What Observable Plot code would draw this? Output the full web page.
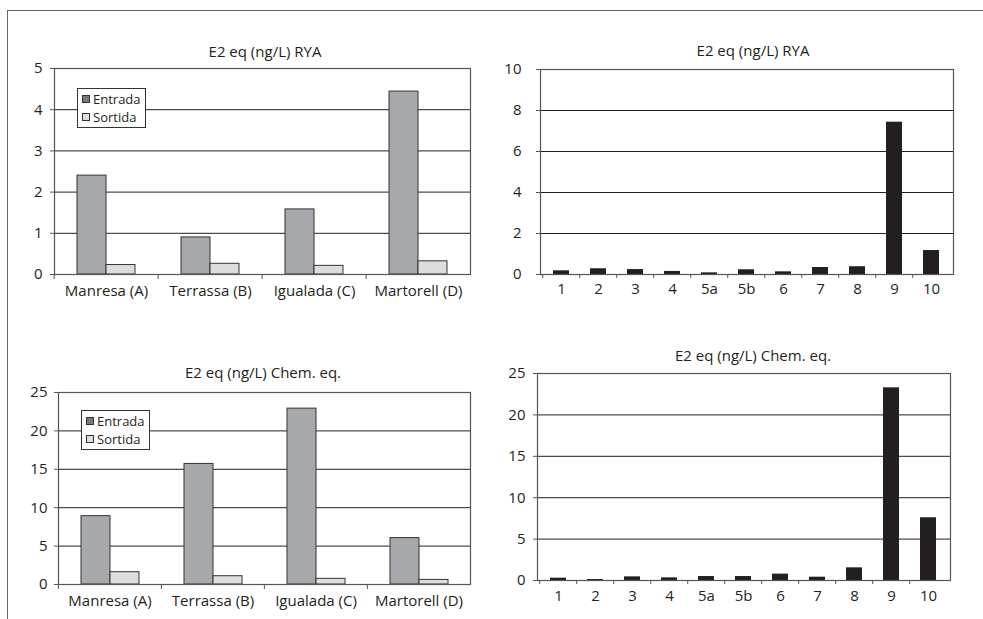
<!DOCTYPE html>
<html>
<head>
<meta charset="utf-8">
<script src="https://cdn.jsdelivr.net/npm/d3@7"></script>
<script src="https://cdn.jsdelivr.net/npm/@observablehq/plot@0.6"></script>
<style>
  html, body { margin: 0; padding: 0; background: #fff; }
  #root { position: relative; width: 983px; height: 619px; overflow: hidden; background: #fff;
          font-family: "Open Sans", sans-serif; color: #231f20; }
  .outer { position: absolute; left: 7px; top: 10px; width: 1000px; height: 700px;
           border-left: 1.5px solid #666; border-top: 1.5px solid #666; }
  .panel { position: absolute; }
  .title { position: absolute; width: 300px; text-align: center; font-size: 15px; line-height: 20px; white-space: nowrap; }
  .legend { position: absolute; border: 1px solid #333; background: #fff; font-size: 13px; line-height: 18px; padding: 1px 4px 1px 4px; }
  .legend .sw { display: inline-block; width: 6px; height: 6px; border: 1px solid #333; margin-right: 3px; vertical-align: 1px; }
</style>
</head>
<body>
<div id="root">
  <div class="outer"></div>
</div>
<script>
// ---- data ----
const sites = ["Manresa (A)", "Terrassa (B)", "Igualada (C)", "Martorell (D)"];
const series = ["Entrada", "Sortida"];
const ryaEntrada = [2.40, 0.90, 1.58, 4.44];
const ryaSortida = [0.23, 0.26, 0.21, 0.32];
const chemEntrada = [8.9, 15.7, 22.9, 6.04];
const chemSortida = [1.6, 1.08, 0.74, 0.6];
const stations = ["1", "2", "3", "4", "5a", "5b", "6", "7", "8", "9", "10"];
const ryaStations = [0.18, 0.28, 0.24, 0.15, 0.08, 0.23, 0.13, 0.34, 0.38, 7.43, 1.17];
const chemStations = [0.28, 0.12, 0.44, 0.32, 0.48, 0.48, 0.77, 0.40, 1.53, 23.27, 7.58];
const ticksRyaSites = [0, 1, 2, 3, 4, 5];
const ticksRyaStations = [0, 2, 4, 6, 8, 10];
const ticksChem = [0, 5, 10, 15, 20, 25];
const titleRya = "E2 eq (ng/L) RYA";
const titleChem = "E2 eq (ng/L) Chem. eq.";

const seriesColors = ["#a7a8ab", "#dcdddf"];
const root = document.getElementById("root");
const fmt = d => String(d);

function addPanel(node, left, top) {
  const d = document.createElement("div");
  d.className = "panel";
  d.style.left = left + "px";
  d.style.top = top + "px";
  d.appendChild(node);
  root.appendChild(d);
}
function addTitle(text, cx, cy) {
  const d = document.createElement("div");
  d.className = "title";
  d.textContent = text;
  d.style.left = (cx - 150) + "px";
  d.style.top = (cy - 10) + "px";
  root.appendChild(d);
}
function addLegend(left, top) {
  const d = document.createElement("div");
  d.className = "legend";
  d.style.left = left + "px";
  d.style.top = top + "px";
  d.innerHTML = series.map((s, i) =>
    `<div><span class="sw" style="background:${i === 0 ? "#77787b" : "#dcdddf"}"></span>${s}</div>`).join("");
  root.appendChild(d);
}

function groupedPanel(entrada, sortida, yTicks, dims) {
  const {width, height, ml, mr, mt, mb, pad, tickPad, labelPad} = dims;
  const rows = [];
  sites.forEach((s, i) => {
    rows.push({site: s, series: series[0], value: entrada[i]});
    rows.push({site: s, series: series[1], value: sortida[i]});
  });
  const step = (width - ml - mr) / sites.length;
  return Plot.plot({
    width, height, marginLeft: ml, marginRight: mr, marginTop: mt, marginBottom: mb,
    style: {fontFamily: "Open Sans", color: "#231f20", background: "transparent", overflow: "visible"},
    fx: {domain: sites, padding: 0, label: null},
    x: {domain: series, paddingInner: 0, paddingOuter: pad, axis: null},
    y: {domain: [0, d3.max(yTicks)], axis: null},
    color: {domain: series, range: seriesColors},
    marks: [
      Plot.ruleY(yTicks, {stroke: "#231f20", strokeWidth: 1}),
      Plot.barY(rows, {fx: "site", x: "series", y: "value", fill: "series", stroke: "#333", strokeWidth: 1}),
      Plot.frame({facet: "super", stroke: "#555", strokeWidth: 1.2}),
      Plot.axisY({ticks: yTicks, tickFormat: fmt, tickSize: 4, tickPadding: tickPad, fontSize: 15, label: null, stroke: "#555"}),
      Plot.axisFx({anchor: "bottom", tickSize: 0, tickPadding: labelPad, fontSize: 15, label: null}),
      Plot.axisFx({anchor: "bottom", fill: "none", stroke: "#555", tickSize: 5, dx: -step / 2, label: null})
    ]
  });
}

function stationPanel(values, yTicks, dims) {
  const {width, height, ml, mr, mt, mb, tickPad, labelPad} = dims;
  const rows = stations.map((s, i) => ({station: s, value: values[i]}));
  const step = (width - ml - mr) / stations.length;
  return Plot.plot({
    width, height, marginLeft: ml, marginRight: mr, marginTop: mt, marginBottom: mb,
    style: {fontFamily: "Open Sans", color: "#231f20", background: "transparent", overflow: "visible"},
    x: {domain: stations, paddingInner: 0.555, paddingOuter: 0.2775, axis: null},
    y: {domain: [0, d3.max(yTicks)], axis: null},
    marks: [
      Plot.ruleY(yTicks, {stroke: "#231f20", strokeWidth: 1}),
      Plot.barY(rows, {x: "station", y: "value", fill: "#231f20"}),
      Plot.frame({stroke: "#555", strokeWidth: 1.2}),
      Plot.axisY({ticks: yTicks, tickFormat: fmt, tickSize: 4, tickPadding: tickPad, fontSize: 15, label: null, stroke: "#555"}),
      Plot.axisX({tickSize: 0, tickPadding: labelPad, fontSize: 15, label: null}),
      Plot.axisX({fill: "none", stroke: "#555", tickSize: 4, dx: -step / 2, label: null})
    ]
  });
}

// top-left
addPanel(groupedPanel(ryaEntrada, ryaSortida, ticksRyaSites,
  {width: 490, height: 270, ml: 52, mr: 19, mt: 28, mb: 36, pad: 0.75, tickPad: 8, labelPad: 11}), 0, 40);
addTitle(titleRya, 265, 51);
addLegend(77, 88);

// top-right
addPanel(stationPanel(ryaStations, ticksRyaStations,
  {width: 493, height: 270, ml: 50, mr: 30, mt: 29, mb: 36, tickPad: 15, labelPad: 9}), 490, 40);
addTitle(titleRya, 753, 50);

// bottom-left
addPanel(groupedPanel(chemEntrada, chemSortida, ticksChem,
  {width: 490, height: 259, ml: 57, mr: 20, mt: 32, mb: 35, pad: 0.72, tickPad: 7, labelPad: 11}), 0, 360);
addTitle(titleChem, 263, 372);
addLegend(81, 410);

// bottom-right
addPanel(stationPanel(chemStations, ticksChem,
  {width: 493, height: 275, ml: 47, mr: 33, mt: 33, mb: 35, tickPad: 8, labelPad: 10}), 490, 340);
addTitle(titleChem, 753, 355);
</script>
</body>
</html>
